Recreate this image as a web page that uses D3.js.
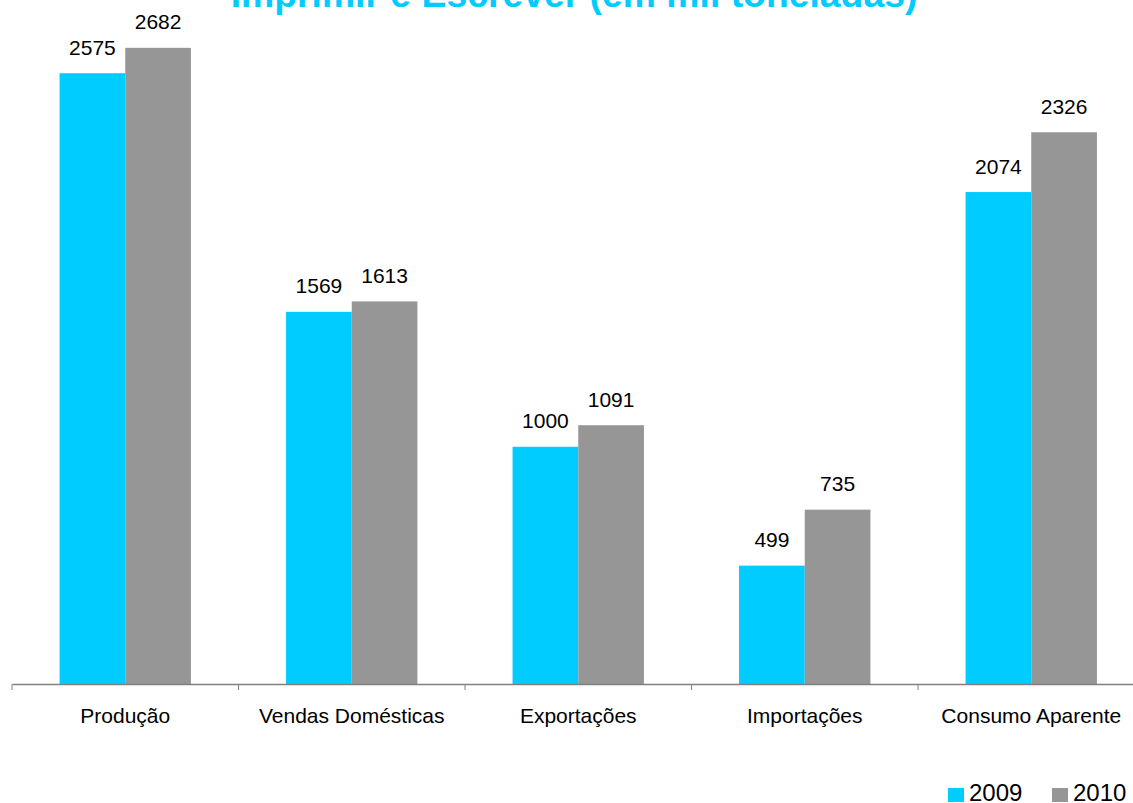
<!DOCTYPE html>
<html>
<head>
<meta charset="utf-8">
<script src="https://cdn.jsdelivr.net/npm/d3@7"></script>
<style>
  html, body { margin: 0; padding: 0; background: #fff; }
  svg { display: block; font-family: "Liberation Sans", Arial, sans-serif; }
</style>
</head>
<body>
<svg id="chart" width="1133" height="803"></svg>
<script>
// Papel de imprimir e escrever, em mil toneladas
const title = "Imprimir e Escrever (em mil toneladas)";
const categories = ["Produção", "Vendas Domésticas", "Exportações", "Importações", "Consumo Aparente"];
const years = ["2009", "2010"];
const values2009 = [2575, 1569, 1000, 499, 2074];
const values2010 = [2682, 1613, 1091, 735, 2326];
const colors = ["#00CCFF", "#969696"];

const svg = d3.select("#chart");
const baseY = 684;
const left = 12, right = 1144.5;

const x = d3.scaleBand().domain(categories).range([left, right]).paddingInner(0).paddingOuter(0);
const xSub = d3.scaleBand().domain(years).range([0, x.bandwidth() * 0.58]).padding(0);
const y = d3.scaleLinear().domain([0, 3000]).range([baseY, baseY - 3000 * 0.2372]);

const series = [values2009, values2010];
const rows = categories.map((c, i) => ({ cat: c, vals: years.map((yr, k) => ({ yr, k, v: series[k][i] })) }));

const groupOffset = (x.bandwidth() - xSub.range()[1]) / 2;

const grp = svg.append("g").selectAll("g.cat").data(rows).join("g")
  .attr("transform", d => `translate(${x(d.cat) + groupOffset},0)`);

grp.selectAll("rect").data(d => d.vals).join("rect")
  .attr("x", d => xSub(d.yr))
  .attr("y", d => y(d.v))
  .attr("width", xSub.bandwidth())
  .attr("height", d => y(0) - y(d.v))
  .attr("fill", d => colors[d.k]);

grp.selectAll("text.val").data(d => d.vals).join("text")
  .attr("class", "val")
  .attr("x", d => xSub(d.yr) + xSub.bandwidth() / 2)
  .attr("y", d => y(d.v) - 18.5)
  .attr("text-anchor", "middle")
  .attr("font-size", 21)
  .attr("fill", "#000")
  .text(d => d.v);

// Category axis
const axis = d3.axisBottom(x).tickSize(0).tickFormat(d => d);
const ax = svg.append("g").attr("transform", `translate(0,${baseY})`).call(axis);
ax.select(".domain").attr("stroke", "#808080").attr("stroke-width", 1.5);
ax.selectAll(".tick text")
  .attr("font-size", 21)
  .attr("font-family", "Liberation Sans, Arial, sans-serif")
  .attr("fill", "#000")
  .attr("dy", 0)
  .attr("y", 39);
// tick marks at band boundaries
ax.selectAll("line.bound").data(categories).join("line")
  .attr("class", "bound")
  .attr("x1", d => x(d)).attr("x2", d => x(d))
  .attr("y1", 0).attr("y2", 6)
  .attr("stroke", "#808080").attr("stroke-width", 1);

// Title (top edge of the canvas)
const t = svg.append("text")
  .attr("x", 574)
  .attr("y", 7)
  .attr("text-anchor", "middle")
  .attr("font-size", 32)
  .attr("font-weight", "bold")
  .attr("fill", "#00CCFF")
  .text(title);
const tw = t.node().getComputedTextLength();
t.attr("font-size", 32 * 687 / tw);

// Legend
const legendPos = [948, 1052];
const lg = svg.selectAll("g.leg").data(years).join("g").attr("class", "leg")
  .attr("transform", (d, i) => `translate(${legendPos[i]},0)`);
lg.append("rect").attr("x", 0).attr("y", 788).attr("width", 16).attr("height", 14)
  .attr("fill", (d, i) => colors[i]);
lg.append("text").attr("x", 21).attr("y", 801)
  .attr("font-size", 24).attr("fill", "#000").text(d => d);
</script>
</body>
</html>
